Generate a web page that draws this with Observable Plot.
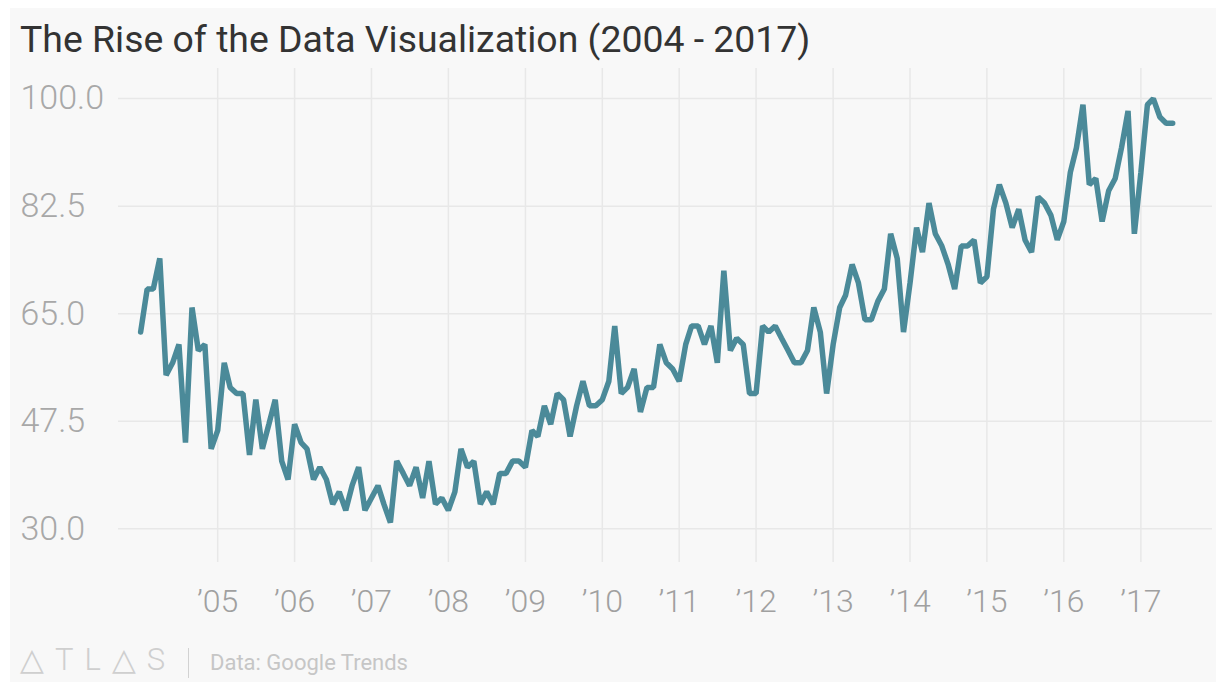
<!DOCTYPE html>
<html>
<head>
<meta charset="utf-8">
<script src="https://cdn.jsdelivr.net/npm/d3@7"></script>
<script src="https://cdn.jsdelivr.net/npm/@observablehq/plot@0.6"></script>
<style>
  html, body { margin: 0; padding: 0; background: #ffffff; }
  #page { position: relative; width: 1216px; height: 682px; overflow: hidden; background: #ffffff; font-family: Roboto, "Noto Sans", sans-serif; }
  #panel { position: absolute; left: 10px; top: 8px; right: 0; bottom: 0; background: #f8f8f8; }
  #title { position: absolute; left: 20px; top: 21px; font-size: 37.4px; line-height: 37px; color: #333333; white-space: nowrap; }
  #chart { position: absolute; left: 0; top: 60px; }
  #logo { position: absolute; left: 20px; top: 644px; font-size: 31px; line-height: 31px; font-weight: 300; color: #cfcfcf; letter-spacing: 11px; white-space: nowrap; }
  #bar { position: absolute; left: 188px; top: 648px; width: 1px; height: 30px; background: #d2d2d2; }
  #source { position: absolute; left: 210px; top: 652px; font-size: 22px; line-height: 22px; color: #c6c6c6; white-space: nowrap; }
</style>
</head>
<body>
<div id="page">
  <div id="panel"></div>
  <div id="title"></div>
  <div id="chart"></div>
  <div id="logo">△TL△S</div>
  <div id="bar"></div>
  <div id="source"></div>
</div>
<script>
// ---- data (Google Trends monthly interest, Jan 2004 – Jun 2017) ----
const titleText = "The Rise of the Data Visualization (2004 - 2017)";
const sourceText = "Data: Google Trends";
const startYear = 2004;
const values = [
  62, 69, 69, 74, 55, 57, 60, 44, 66, 59, 60, 43,   // 2004
  46, 57, 53, 52, 52, 42, 51, 43, 47, 51, 41, 38,   // 2005
  47, 44, 43, 38, 40, 38, 34, 36, 33, 37, 40, 33,   // 2006
  35, 37, 34, 31, 41, 39, 37, 40, 35, 41, 34, 35,   // 2007
  33, 36, 43, 40, 41, 34, 36, 34, 39, 39, 41, 41,   // 2008
  40, 46, 45, 50, 47, 52, 51, 45, 50, 54, 50, 50,   // 2009
  51, 54, 63, 52, 53, 56, 49, 53, 53, 60, 57, 56,   // 2010
  54, 60, 63, 63, 60, 63, 57, 72, 59, 61, 60, 52,   // 2011
  52, 63, 62, 63, 61, 59, 57, 57, 59, 66, 62, 52,   // 2012
  60, 66, 68, 73, 70, 64, 64, 67, 69, 78, 74, 62,   // 2013
  70, 79, 75, 83, 78, 76, 73, 69, 76, 76, 77, 70,   // 2014
  71, 82, 86, 83, 79, 82, 77, 75, 84, 83, 81, 77,   // 2015
  80, 88, 92, 99, 86, 87, 80, 85, 87, 92, 98, 78,   // 2016
  88, 99, 100, 97, 96, 96                           // 2017
];
const yTicks = [30, 47.5, 65, 82.5, 100];
const xTickYears = [2005, 2006, 2007, 2008, 2009, 2010, 2011, 2012, 2013, 2014, 2015, 2016, 2017];
const xTickLabels = ["’05", "’06", "’07", "’08", "’09", "’10", "’11", "’12", "’13", "’14", "’15", "’16", "’17"];

// ---- build table ----
const data = values.map((v, i) => ({
  date: new Date(Date.UTC(startYear + Math.floor(i / 12), i % 12, 1)),
  value: v
}));
const xTicks = xTickYears.map(y => new Date(Date.UTC(y, 0, 1)));
const labelFor = d => xTickLabels[xTickYears.indexOf(d.getUTCFullYear())];

document.getElementById("title").textContent = titleText;
document.getElementById("source").textContent = sourceText;

const gridColor = "#e8e8e8";

const chart = Plot.plot({
  width: 1216,
  height: 565,
  marginLeft: 118,
  marginRight: 4,
  marginTop: 8,
  marginBottom: 63,
  style: { background: "transparent", fontFamily: "Roboto, 'Noto Sans', sans-serif", overflow: "visible" },
  x: { type: "utc", domain: [new Date(Date.UTC(2003, 8, 18)), new Date(Date.UTC(2017, 11, 7))] },
  y: { domain: [24.5, 104.9] },
  marks: [
    Plot.gridY(yTicks, { stroke: gridColor, strokeOpacity: 1, strokeWidth: 1.5 }),
    Plot.gridX(xTicks, { stroke: gridColor, strokeOpacity: 1, strokeWidth: 1.5 }),
    Plot.axisY(yTicks, {
      tickSize: 0, tickPadding: 0, dx: -98, textAnchor: "start",
      tickFormat: d3.format(".1f"),
      fontSize: 34, fontWeight: 300, fill: "#a8a8a8", label: null
    }),
    Plot.axisX(xTicks, {
      tickSize: 0, tickPadding: 27,
      tickFormat: labelFor,
      fontSize: 32, fontWeight: 300, fill: "#a0a0a0", label: null
    }),
    Plot.lineY(data, { x: "date", y: "value", stroke: "#4b8a99", strokeWidth: 5.5, strokeLinejoin: "miter" })
  ]
});
document.getElementById("chart").appendChild(chart);
</script>
</body>
</html>
